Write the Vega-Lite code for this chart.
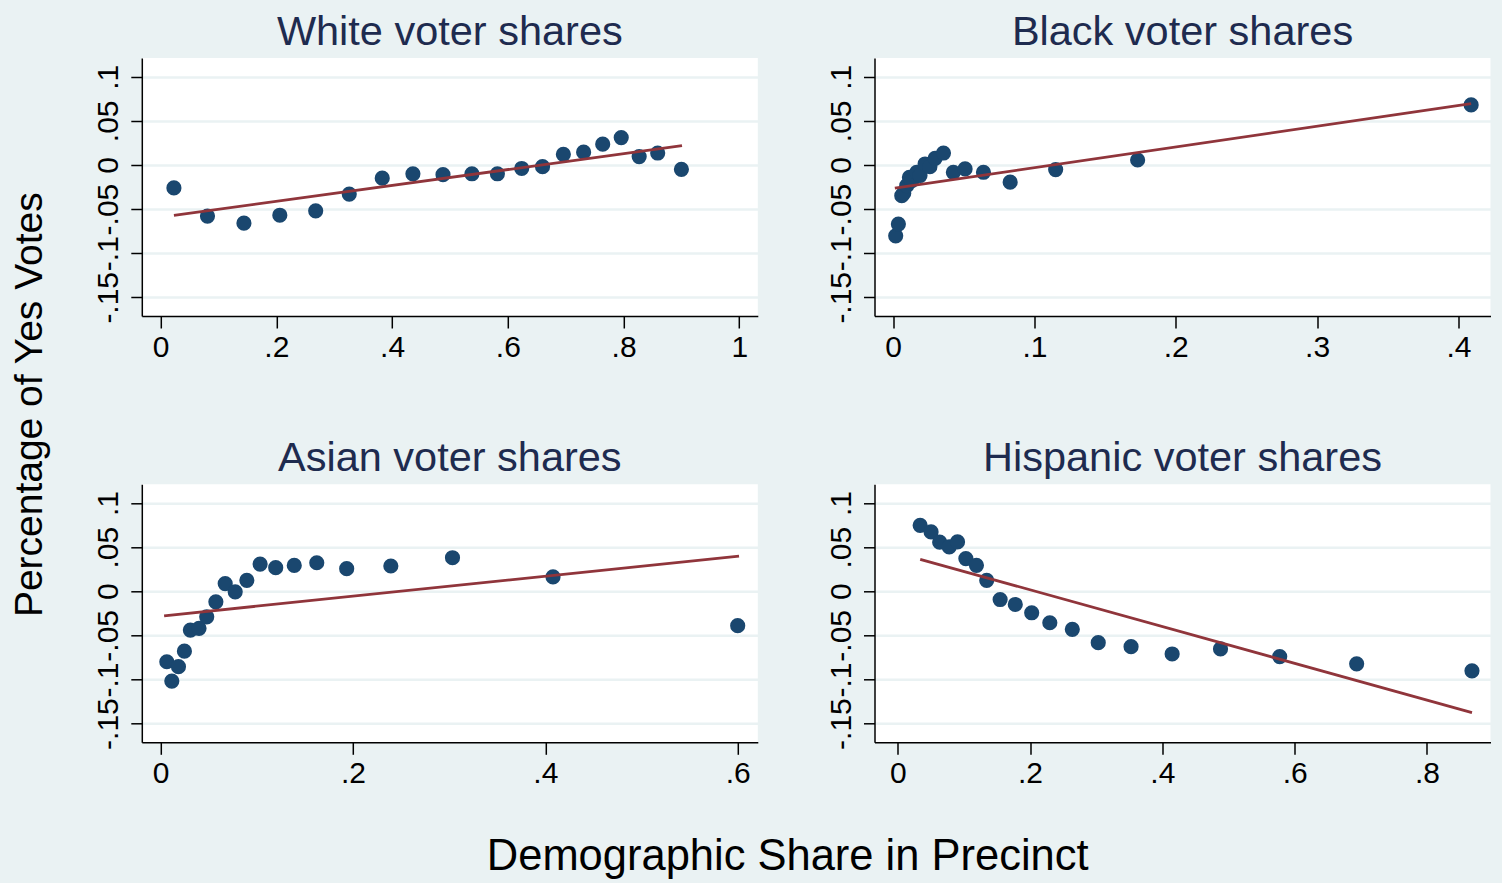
{
  "$schema": "https://vega.github.io/schema/vega-lite/v6.json",
  "background": "#eaf2f3",
  "padding": {"left": 10.8, "top": 11, "right": 12, "bottom": 4},
  "autosize": {"type": "pad"},
  "bounds": "flush",
  "columns": 2,
  "spacing": {"row": 168.3, "column": 116.7},
  "datasets": {
    "points": [
      {"panel": "White", "x": 0.023, "y": -0.026},
      {"panel": "White", "x": 0.081, "y": -0.058},
      {"panel": "White", "x": 0.144, "y": -0.066},
      {"panel": "White", "x": 0.206, "y": -0.057},
      {"panel": "White", "x": 0.268, "y": -0.052},
      {"panel": "White", "x": 0.326, "y": -0.033},
      {"panel": "White", "x": 0.383, "y": -0.015},
      {"panel": "White", "x": 0.436, "y": -0.010},
      {"panel": "White", "x": 0.488, "y": -0.011},
      {"panel": "White", "x": 0.538, "y": -0.010},
      {"panel": "White", "x": 0.582, "y": -0.010},
      {"panel": "White", "x": 0.624, "y": -0.004},
      {"panel": "White", "x": 0.660, "y": -0.002},
      {"panel": "White", "x": 0.696, "y": 0.012},
      {"panel": "White", "x": 0.731, "y": 0.0145},
      {"panel": "White", "x": 0.764, "y": 0.0235},
      {"panel": "White", "x": 0.796, "y": 0.031},
      {"panel": "White", "x": 0.827, "y": 0.0095},
      {"panel": "White", "x": 0.859, "y": 0.0135},
      {"panel": "White", "x": 0.900, "y": -0.005},
      {"panel": "Black", "x": 0.0018, "y": -0.0803},
      {"panel": "Black", "x": 0.0037, "y": -0.067},
      {"panel": "Black", "x": 0.0061, "y": -0.0349},
      {"panel": "Black", "x": 0.0075, "y": -0.032},
      {"panel": "Black", "x": 0.0096, "y": -0.0235},
      {"panel": "Black", "x": 0.0115, "y": -0.014},
      {"panel": "Black", "x": 0.0132, "y": -0.0178},
      {"panel": "Black", "x": 0.0167, "y": -0.0083},
      {"panel": "Black", "x": 0.019, "y": -0.012},
      {"panel": "Black", "x": 0.0226, "y": 0.0011},
      {"panel": "Black", "x": 0.026, "y": -0.002},
      {"panel": "Black", "x": 0.0297, "y": 0.0075},
      {"panel": "Black", "x": 0.0356, "y": 0.0135},
      {"panel": "Black", "x": 0.0426, "y": -0.0083},
      {"panel": "Black", "x": 0.0509, "y": -0.0045},
      {"panel": "Black", "x": 0.0639, "y": -0.0083},
      {"panel": "Black", "x": 0.0828, "y": -0.0195},
      {"panel": "Black", "x": 0.115, "y": -0.0053},
      {"panel": "Black", "x": 0.173, "y": 0.0056},
      {"panel": "Black", "x": 0.409, "y": 0.068},
      {"panel": "Asian", "x": 0.0065, "y": -0.0799},
      {"panel": "Asian", "x": 0.0117, "y": -0.1018},
      {"panel": "Asian", "x": 0.0186, "y": -0.0855},
      {"panel": "Asian", "x": 0.0248, "y": -0.0679},
      {"panel": "Asian", "x": 0.031, "y": -0.044},
      {"panel": "Asian", "x": 0.040, "y": -0.042},
      {"panel": "Asian", "x": 0.048, "y": -0.029},
      {"panel": "Asian", "x": 0.0575, "y": -0.012},
      {"panel": "Asian", "x": 0.0672, "y": 0.0087},
      {"panel": "Asian", "x": 0.0776, "y": -0.0007},
      {"panel": "Asian", "x": 0.0897, "y": 0.0124},
      {"panel": "Asian", "x": 0.1035, "y": 0.0308},
      {"panel": "Asian", "x": 0.1197, "y": 0.0267},
      {"panel": "Asian", "x": 0.139, "y": 0.0293},
      {"panel": "Asian", "x": 0.1624, "y": 0.0323},
      {"panel": "Asian", "x": 0.1935, "y": 0.0256},
      {"panel": "Asian", "x": 0.2394, "y": 0.0286},
      {"panel": "Asian", "x": 0.3035, "y": 0.038},
      {"panel": "Asian", "x": 0.408, "y": 0.0162},
      {"panel": "Asian", "x": 0.600, "y": -0.039},
      {"panel": "Hispanic", "x": 0.0339, "y": 0.0747},
      {"panel": "Hispanic", "x": 0.0504, "y": 0.0672},
      {"panel": "Hispanic", "x": 0.0634, "y": 0.0556},
      {"panel": "Hispanic", "x": 0.0779, "y": 0.0502},
      {"panel": "Hispanic", "x": 0.0904, "y": 0.0559},
      {"panel": "Hispanic", "x": 0.103, "y": 0.037},
      {"panel": "Hispanic", "x": 0.119, "y": 0.0294},
      {"panel": "Hispanic", "x": 0.1345, "y": 0.0124},
      {"panel": "Hispanic", "x": 0.1548, "y": -0.0094},
      {"panel": "Hispanic", "x": 0.1777, "y": -0.015},
      {"panel": "Hispanic", "x": 0.2025, "y": -0.0244},
      {"panel": "Hispanic", "x": 0.2299, "y": -0.0357},
      {"panel": "Hispanic", "x": 0.2639, "y": -0.0432},
      {"panel": "Hispanic", "x": 0.3031, "y": -0.0583},
      {"panel": "Hispanic", "x": 0.3527, "y": -0.0628},
      {"panel": "Hispanic", "x": 0.4148, "y": -0.0711},
      {"panel": "Hispanic", "x": 0.4879, "y": -0.0654},
      {"panel": "Hispanic", "x": 0.5774, "y": -0.0741},
      {"panel": "Hispanic", "x": 0.6937, "y": -0.0823},
      {"panel": "Hispanic", "x": 0.868, "y": -0.0902}
    ],
    "fits": [
      {"panel": "White", "x": 0.023, "y": -0.0571},
      {"panel": "White", "x": 0.901, "y": 0.0218},
      {"panel": "Black", "x": 0.0012, "y": -0.0263},
      {"panel": "Black", "x": 0.409, "y": 0.0695},
      {"panel": "Asian", "x": 0.0037, "y": -0.0278},
      {"panel": "Asian", "x": 0.6014, "y": 0.0398},
      {"panel": "Hispanic", "x": 0.034, "y": 0.0362},
      {"panel": "Hispanic", "x": 0.868, "y": -0.1375}
    ]
  },
  "concat": [
    {
      "width": 616, "height": 258,
      "title": "White voter shares",
      "encoding": {
        "x": {"field": "x", "type": "quantitative", "scale": {"domain": [-0.0325, 1.032], "nice": false, "zero": false},
              "axis": {"values": [0, 0.2, 0.4, 0.6, 0.8, 1], "labelExpr": "replace(toString(datum.value), '0.', '.')", "title": null}},
        "y": {"field": "y", "type": "quantitative", "scale": {"domain": [-0.1712, 0.1212], "nice": false, "zero": false},
              "axis": {"values": [-0.15, -0.1, -0.05, 0, 0.05, 0.1], "labelExpr": "replace(toString(datum.value), '0.', '.')",
                       "title": "Percentage of Yes Votes", "titleX": -100, "titleY": 346.2, "titleAngle": 270, "titleAlign": "center", "titleBaseline": "alphabetic", "titleFontSize": 39}}
      },
      "layer": [
        {"data": {"name": "points"}, "transform": [{"filter": "datum.panel === 'White'"}],
         "mark": {"type": "circle", "size": 230, "color": "#1a476f", "opacity": 1}},
        {"data": {"name": "fits"}, "transform": [{"filter": "datum.panel === 'White'"}],
         "mark": {"type": "line", "color": "#90353b", "strokeWidth": 2.8}}
      ]
    },
    {
      "width": 616, "height": 258,
      "title": "Black voter shares",
      "encoding": {
        "x": {"field": "x", "type": "quantitative", "scale": {"domain": [-0.0132, 0.4227], "nice": false, "zero": false},
              "axis": {"values": [0, 0.1, 0.2, 0.3, 0.4], "labelExpr": "replace(toString(datum.value), '0.', '.')", "title": null}},
        "y": {"field": "y", "type": "quantitative", "scale": {"domain": [-0.1712, 0.1212], "nice": false, "zero": false},
              "axis": {"values": [-0.15, -0.1, -0.05, 0, 0.05, 0.1], "labelExpr": "replace(toString(datum.value), '0.', '.')", "title": null}}
      },
      "layer": [
        {"data": {"name": "points"}, "transform": [{"filter": "datum.panel === 'Black'"}],
         "mark": {"type": "circle", "size": 230, "color": "#1a476f", "opacity": 1}},
        {"data": {"name": "fits"}, "transform": [{"filter": "datum.panel === 'Black'"}],
         "mark": {"type": "line", "color": "#90353b", "strokeWidth": 2.8}}
      ]
    },
    {
      "width": 616, "height": 258,
      "title": "Asian voter shares",
      "encoding": {
        "x": {"field": "x", "type": "quantitative", "scale": {"domain": [-0.0195, 0.6209], "nice": false, "zero": false},
              "axis": {"values": [0, 0.2, 0.4, 0.6], "labelExpr": "replace(toString(datum.value), '0.', '.')",
                       "title": "Demographic Share in Precinct", "titleX": 645.4, "titleY": 127.7, "titleAlign": "center", "titleBaseline": "alphabetic", "titleFontSize": 43.5}},
        "y": {"field": "y", "type": "quantitative", "scale": {"domain": [-0.1712, 0.1212], "nice": false, "zero": false},
              "axis": {"values": [-0.15, -0.1, -0.05, 0, 0.05, 0.1], "labelExpr": "replace(toString(datum.value), '0.', '.')", "title": null}}
      },
      "layer": [
        {"data": {"name": "points"}, "transform": [{"filter": "datum.panel === 'Asian'"}],
         "mark": {"type": "circle", "size": 230, "color": "#1a476f", "opacity": 1}},
        {"data": {"name": "fits"}, "transform": [{"filter": "datum.panel === 'Asian'"}],
         "mark": {"type": "line", "color": "#90353b", "strokeWidth": 2.8}}
      ]
    },
    {
      "width": 616, "height": 258,
      "title": "Hispanic voter shares",
      "encoding": {
        "x": {"field": "x", "type": "quantitative", "scale": {"domain": [-0.0351, 0.896], "nice": false, "zero": false},
              "axis": {"values": [0, 0.2, 0.4, 0.6, 0.8], "labelExpr": "replace(toString(datum.value), '0.', '.')", "title": null}},
        "y": {"field": "y", "type": "quantitative", "scale": {"domain": [-0.1712, 0.1212], "nice": false, "zero": false},
              "axis": {"values": [-0.15, -0.1, -0.05, 0, 0.05, 0.1], "labelExpr": "replace(toString(datum.value), '0.', '.')", "title": null}}
      },
      "layer": [
        {"data": {"name": "points"}, "transform": [{"filter": "datum.panel === 'Hispanic'"}],
         "mark": {"type": "circle", "size": 230, "color": "#1a476f", "opacity": 1}},
        {"data": {"name": "fits"}, "transform": [{"filter": "datum.panel === 'Hispanic'"}],
         "mark": {"type": "line", "color": "#90353b", "strokeWidth": 2.8}}
      ]
    }
  ],
  "config": {
    "view": {"fill": "white", "stroke": null},
    "font": "Liberation Sans",
    "title": {"fontSize": 41.5, "fontWeight": "normal", "color": "#1e2b4f", "font": "Liberation Sans", "anchor": "middle", "baseline": "alphabetic", "offset": 5},
    "axis": {"labelFont": "Liberation Sans", "labelFontSize": 30, "labelColor": "#000000", "domainColor": "#000000", "domainWidth": 1.5,
             "tickColor": "#000000", "tickWidth": 1.5, "labelOverlap": false, "labelFlush": false, "labelBound": false,
             "titleFont": "Liberation Sans", "titleFontWeight": "normal", "titleColor": "#000000"},
    "axisX": {"grid": false, "tickSize": 12, "labelPadding": 4},
    "axisY": {"grid": true, "gridColor": "#eaf2f3", "gridWidth": 2.5, "tickSize": 11, "labelAngle": -90, "labelAlign": "center", "labelBaseline": "alphabetic", "labelPadding": 13}
  }
}
